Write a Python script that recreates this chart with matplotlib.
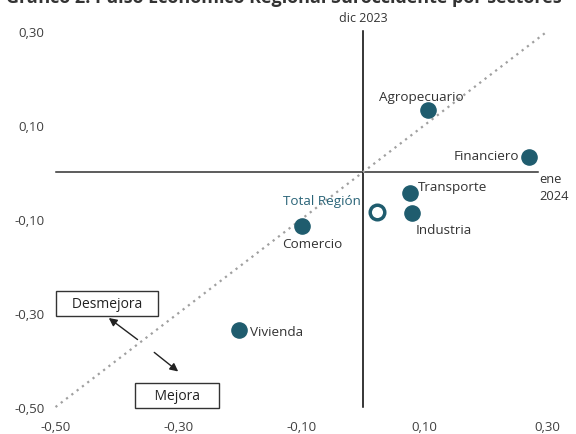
import matplotlib.pyplot as plt

plt.rcParams['font.family'] = ['Open Sans', 'DejaVu Sans']

# sectores (dic 2023 en y, ene 2024 en x)
sectores = ['Agropecuario', 'Financiero', 'Transporte', 'Industria', 'Comercio', 'Vivienda']
ene_2024 = [0.106, 0.270, 0.076, 0.080, -0.099, -0.202]
dic_2023 = [0.132, 0.032, -0.045, -0.087, -0.115, -0.336]
total_x = 0.023
total_y = -0.085

ticks = [-0.50, -0.30, -0.10, 0.10, 0.30]
tick_labels = ['-0,50', '-0,30', '-0,10', '0,10', '0,30']

azul = '#1f5c6e'
gris = '#404040'

fig = plt.figure(figsize=(5.76, 4.35), dpi=100)
ax = fig.add_axes([0.0964, 0.062, 0.8541, 0.864])
ax.set_xlim(-0.5, 0.3)
ax.set_ylim(-0.5, 0.3)
for s in ax.spines.values():
    s.set_visible(False)
ax.set_xticks(ticks)
ax.set_xticklabels(tick_labels)
ax.set_yticks(ticks)
ax.set_yticklabels(tick_labels)
ax.tick_params(length=0, labelsize=9.5, colors=gris)
ax.tick_params(axis='x', pad=9)
ax.tick_params(axis='y', pad=8)

# ejes cruzados y diagonal
ax.plot([-0.5, 0.285], [0, 0], color='#303030', lw=1.1, clip_on=False)
ax.plot([0, 0], [-0.5, 0.3], color='black', lw=1.1, clip_on=False)
ax.plot([-0.5, 0.3], [-0.5, 0.3], color='#a0a0a0', lw=1.6, ls=(0, (1, 2)), clip_on=False)

ax.scatter(ene_2024, dic_2023, s=120, color=azul, zorder=3, clip_on=False)
ax.scatter([total_x], [total_y], s=110, facecolor='white', edgecolor=azul, linewidth=2.5, zorder=3)

lab = dict(fontsize=9.7, color='#333333')
ax.text(ene_2024[0] - 0.011, dic_2023[0] + 0.03, sectores[0], ha='center', va='center', **lab)
ax.text(ene_2024[1] - 0.016, dic_2023[1] + 0.003, sectores[1], ha='right', va='center', **lab)
ax.text(ene_2024[2] + 0.014, dic_2023[2] + 0.015, sectores[2], ha='left', va='center', **lab)
ax.text(ene_2024[3] + 0.006, dic_2023[3] - 0.035, sectores[3], ha='left', va='center', **lab)
ax.text(ene_2024[4] - 0.032, dic_2023[4] - 0.036, sectores[4], ha='left', va='center', **lab)
ax.text(ene_2024[5] + 0.019, dic_2023[5] - 0.004, sectores[5], ha='left', va='center', **lab)
ax.text(total_x - 0.026, total_y + 0.025, 'Total Región', ha='right', va='center',
        fontsize=9.7, color='#2a6478')

ax.text(0, 0.33, 'dic 2023', ha='center', va='center', fontsize=9, color='#333333', clip_on=False)
ax.text(0.287, 0.0, 'ene\n2024', ha='left', va='top', fontsize=9.3, color='#333333',
        linespacing=1.35, clip_on=False)

box = dict(boxstyle='square,pad=0.35', facecolor='white', edgecolor='#333333', lw=1)
ax.text(-0.416, -0.280, '   Desmejora   ', ha='center', va='center', fontsize=10,
        color='#222222', bbox=box)
ax.text(-0.302, -0.475, '    Mejora    ', ha='center', va='center', fontsize=10,
        color='#222222', bbox=box)
ax.annotate('', xy=(-0.417, -0.307), xytext=(-0.363, -0.360),
            arrowprops=dict(arrowstyle='-|>', color='#222222', lw=1, mutation_scale=12))
ax.annotate('', xy=(-0.297, -0.428), xytext=(-0.343, -0.380),
            arrowprops=dict(arrowstyle='-|>', color='#222222', lw=1, mutation_scale=12))

fig.text(0.01, 1.005, 'Gráfico 2: Pulso Económico Regional Suroccidente por sectores',
         ha='left', va='center', fontsize=13, fontweight='bold', color='#333333')

fig.savefig('out.png', dpi=100)
